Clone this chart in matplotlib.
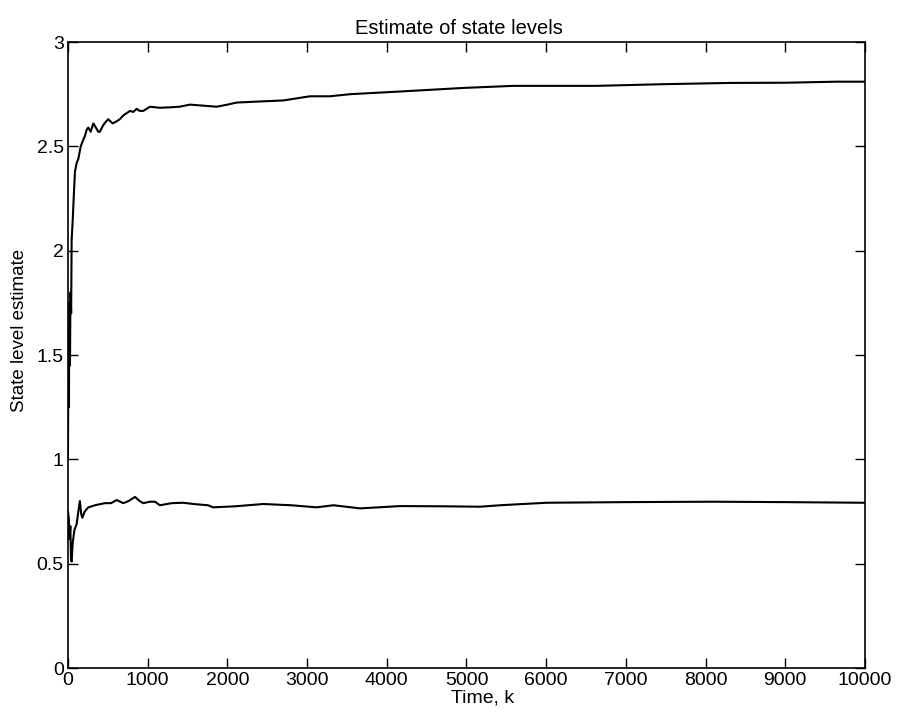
import matplotlib
matplotlib.use("Agg")
import matplotlib.pyplot as plt

plt.rcParams["font.family"] = ["Liberation Sans", "DejaVu Sans"]

# upper state level estimate
k_upper = [0, 6, 12, 18, 25, 32, 40, 46, 60, 75, 88, 109, 130, 160, 190, 213,
           235, 255, 285, 318, 350, 380, 400, 440, 480, 506, 560, 611, 650,
           700, 740, 778, 820, 862, 900, 945, 1029, 1150, 1280, 1400, 1531,
           1700, 1865, 2000, 2116, 2400, 2700, 3036, 3287, 3538, 4123, 4960,
           5590, 6000, 6636, 7470, 8310, 9000, 9645, 10000]
upper = [1.0, 1.6, 1.25, 1.75, 1.45, 1.8, 1.7, 2.05, 2.15, 2.28, 2.38, 2.42,
         2.44, 2.5, 2.53, 2.55, 2.58, 2.59, 2.57, 2.61, 2.59, 2.57, 2.57,
         2.6, 2.62, 2.63, 2.61, 2.62, 2.63, 2.65, 2.66, 2.67, 2.665, 2.68,
         2.67, 2.67, 2.69, 2.685, 2.687, 2.69, 2.70, 2.695, 2.69, 2.70, 2.71,
         2.715, 2.72, 2.74, 2.74, 2.75, 2.762, 2.78, 2.79, 2.79, 2.79, 2.798,
         2.804, 2.805, 2.81, 2.81]

# lower state level estimate
k_lower = [0, 10, 20, 30, 38, 46, 60, 80, 109, 130, 150, 165, 180, 210, 255,
           300, 339, 400, 464, 540, 611, 694, 760, 841, 900, 945, 1029, 1092,
           1154, 1300, 1443, 1600, 1757, 1820, 2100, 2450, 2800, 3120, 3330,
           3665, 4166, 4700, 5170, 5420, 6006, 7000, 8093, 9000, 9975, 10000]
lower = [0.75, 0.72, 0.62, 0.68, 0.52, 0.51, 0.6, 0.66, 0.69, 0.75, 0.80,
         0.74, 0.72, 0.75, 0.77, 0.775, 0.78, 0.785, 0.79, 0.79, 0.805, 0.79,
         0.80, 0.82, 0.80, 0.79, 0.797, 0.797, 0.78, 0.79, 0.792, 0.785, 0.78,
         0.77, 0.775, 0.786, 0.78, 0.77, 0.78, 0.765, 0.776, 0.775, 0.773,
         0.78, 0.792, 0.795, 0.797, 0.795, 0.792, 0.792]

fig = plt.figure(figsize=(8.99, 7.21), dpi=100)
ax = fig.add_axes([0.0756, 0.0735, 0.8866, 0.8682])

ax.plot(k_upper, upper, color="black", lw=1.5)
ax.plot(k_lower, lower, color="black", lw=1.5)

ax.set_xlim(0, 10000)
ax.set_ylim(0, 3)
ax.set_xticks(range(0, 10001, 1000))
ax.set_yticks([0, 0.5, 1, 1.5, 2, 2.5, 3])
ax.set_yticklabels(["0", "0.5", "1", "1.5", "2", "2.5", "3"])
ax.tick_params(direction="in", top=True, right=True, length=7, width=1,
               labelsize=14, pad=3)
for s in ax.spines.values():
    s.set_linewidth(1.2)

ax.set_title("Estimate of state levels", fontsize=14.5, pad=6,
             x=0.49)
ax.set_xlabel("Time, k", fontsize=14, labelpad=0)
ax.xaxis.set_label_coords(0.52, -0.035)
ax.set_ylabel("State level estimate", fontsize=13.5, labelpad=4)
ax.yaxis.set_label_coords(-0.05, 0.54)

fig.savefig("out.png", dpi=100)
